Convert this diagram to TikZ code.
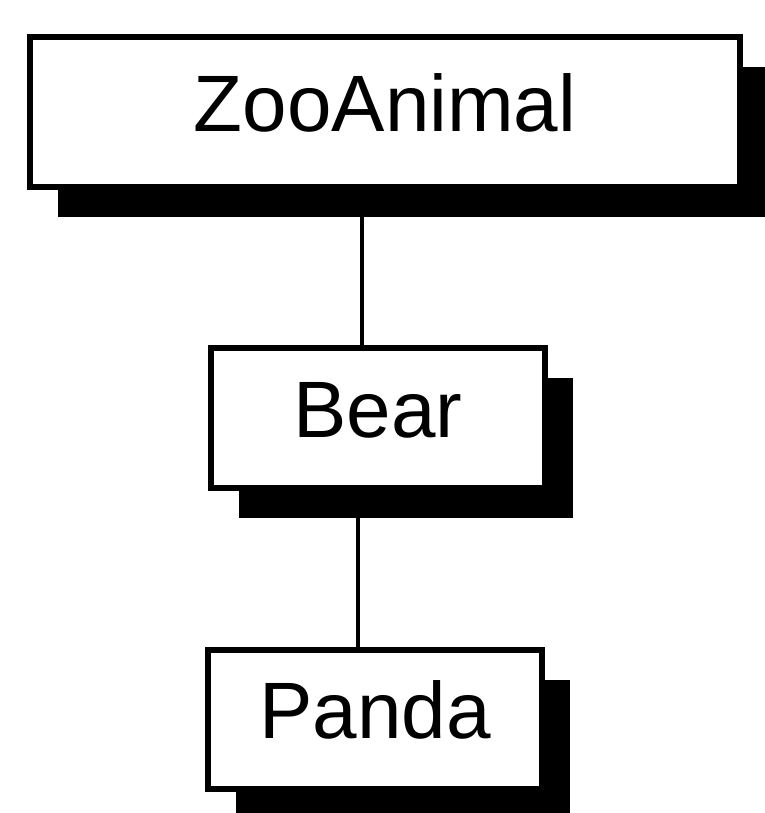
\documentclass[tikz,border=0pt]{standalone}
\usepackage{fontspec}
\setmainfont{Liberation Sans}
\usetikzlibrary{shadows}

\begin{document}
\begin{tikzpicture}[x=1pt, y=-1pt, line width=6pt,
    classbox/.style={draw, rectangle, fill=white, inner sep=0pt,
      text height=57pt, text depth=18pt,
      font=\fontsize{80}{90}\selectfont,
      drop shadow={shadow xshift=28pt, shadow yshift=-30pt, fill=black, opacity=1}}]
            \useasboundingbox (0,0) rectangle (764,813);
            \node[classbox, minimum width=710pt, minimum height=150pt] (zoo) at (385,112) {ZooAnimal};
            \node[classbox, minimum width=334pt, minimum height=140pt] (bear) at (378,418) {Bear};
            \node[classbox, minimum width=334pt, minimum height=139pt] (panda) at (375,719) {Panda};
            
            \draw[line width=3.5pt] ([xshift=-16pt]bear.north) -- ([xshift=-16pt]bear.north |- zoo.south);
            \draw[line width=3.5pt] ([xshift=-17pt]panda.north) -- ([xshift=-17pt]panda.north |- bear.south);
        \end{tikzpicture}
\end{document}
